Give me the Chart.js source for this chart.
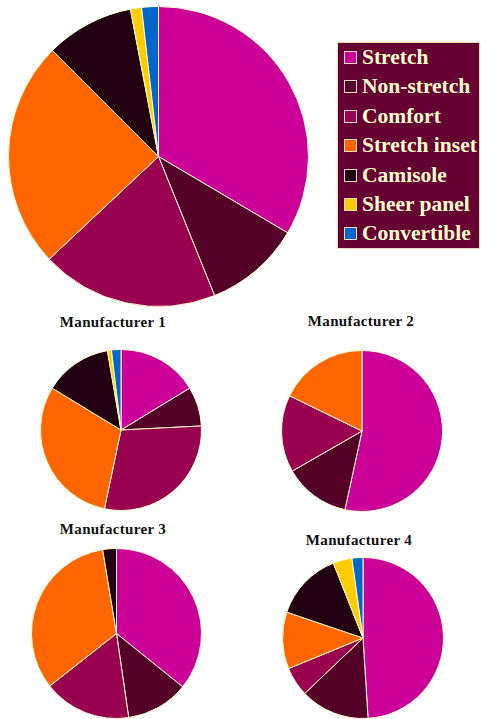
<!DOCTYPE html>
<html>
<head>
<meta charset="utf-8">
<script src="https://cdn.jsdelivr.net/npm/chart.js@4"></script>
<style>
	body { margin: 0; background: #ffffff; }
	#wrap { position: relative; width: 481px; height: 719px; overflow: hidden; }
	canvas { position: absolute; }
	.title { position: absolute; font-weight: bold; font-size: 15px; letter-spacing: 0.35px; font-family: "Liberation Serif", "Times New Roman", Tinos, "DejaVu Serif", serif; color: #111; white-space: nowrap; transform: translateX(-50%); }
	#legend { position: absolute; left: 337px; top: 42px; width: 143px; height: 207px; background: #660033; box-sizing: border-box; border: 1px solid #e8d8b8; }
	.item { position: absolute; left: 6px; height: 30px; line-height: 30px; font-weight: bold; font-size: 21.5px; font-family: "Liberation Serif", "Times New Roman", Tinos, "DejaVu Serif", serif; color: #ffffcc; white-space: nowrap; }
	.item span { display: inline-block; width: 11px; height: 11px; border: 1px solid #f0e0c0; margin-right: 5px; vertical-align: 0px; }
</style>
</head>
<body>
<div id="wrap">
	<canvas id="total" style="left:8px;top:6px"></canvas>
	<div id="legend"></div>

	<div class="title" style="left:113px;top:314px">Manufacturer 1</div>
	<canvas id="m1" style="left:40px;top:349px"></canvas>

	<div class="title" style="left:361px;top:313px">Manufacturer 2</div>
	<canvas id="m2" style="left:281px;top:350px"></canvas>

	<div class="title" style="left:113px;top:521px">Manufacturer 3</div>
	<canvas id="m3" style="left:31px;top:548px"></canvas>

	<div class="title" style="left:359px;top:532px">Manufacturer 4</div>
	<canvas id="m4" style="left:282px;top:557px"></canvas>
</div>
<script>
const categories = ['Stretch', 'Non-stretch', 'Comfort', 'Stretch inset', 'Camisole', 'Sheer panel', 'Convertible'];
const colors = ['#cc0099', '#550029', '#990050', '#ff6600', '#220011', '#ffcc00', '#0066cc'];

// Share of each style (percent), clockwise from 12 o'clock.
const totalShare = [33.5, 10.4, 19.1, 24.5, 9.5, 1.2, 1.8];
const manufacturer1 = [16.3, 7.9, 29.1, 30.4, 13.6, 0.8, 1.9];
const manufacturer2 = [53.4, 13.3, 15.5, 17.8, 0, 0, 0];
const manufacturer3 = [35.8, 11.9, 16.7, 33.0, 2.6, 0, 0];
const manufacturer4 = [49.0, 13.9, 5.9, 11.4, 13.8, 3.8, 2.2];

function pieChart( id, size, values ) {
	const canvas = document.getElementById( id );
	canvas.width = size;
	canvas.height = size;
	canvas.style.width = size + 'px';
	canvas.style.height = size + 'px';
	return new Chart( canvas, {
		type: 'pie',
		data: {
			labels: categories,
			datasets: [{
				data: values,
				backgroundColor: colors,
				borderColor: '#ffffcc',
				borderWidth: 1
			}]
		},
		options: {
			responsive: false,
			animation: false,
			layout: { padding: 0 },
			plugins: {
				legend: { display: false },
				tooltip: { enabled: false }
			}
		}
	} );
}

pieChart( 'total', 301, totalShare );
pieChart( 'm1', 162, manufacturer1 );
pieChart( 'm2', 162, manufacturer2 );
pieChart( 'm3', 171, manufacturer3 );
pieChart( 'm4', 162, manufacturer4 );

// Legend for the whole figure.
const legend = document.getElementById( 'legend' );
categories.forEach( ( label, i ) => {
	const row = document.createElement( 'div' );
	row.className = 'item';
	row.style.top = ( -1 + i * 29.4 ) + 'px';
	const box = document.createElement( 'span' );
	box.style.background = colors[i];
	row.appendChild( box );
	row.appendChild( document.createTextNode( label ) );
	legend.appendChild( row );
} );
</script>
</body>
</html>
